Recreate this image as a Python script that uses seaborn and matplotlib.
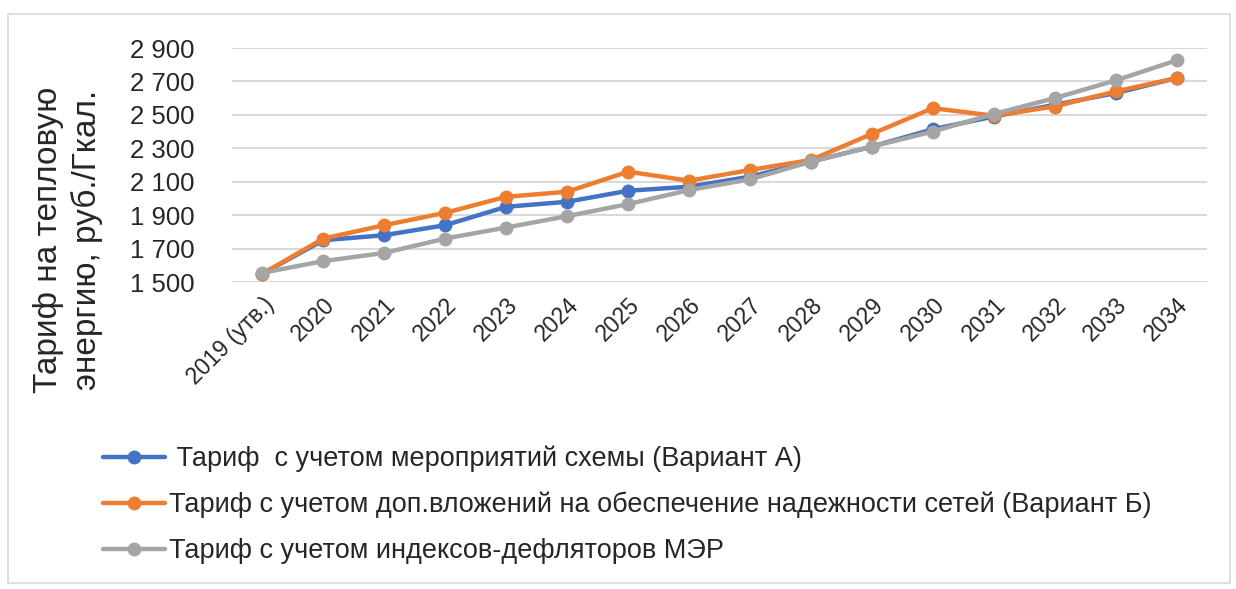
import matplotlib
matplotlib.use("Agg")
import matplotlib.pyplot as plt
import seaborn as sns
import pandas as pd
from matplotlib.patches import Rectangle
from matplotlib.ticker import FuncFormatter

# Годы прогноза
years = ["2019 (утв.)", "2020", "2021", "2022", "2023", "2024", "2025", "2026",
         "2027", "2028", "2029", "2030", "2031", "2032", "2033", "2034"]

# Тарифы, руб./Гкал
variant_a = [1550, 1750, 1780, 1840, 1950, 1980, 2046, 2070,
             2130, 2220, 2310, 2414, 2490, 2560, 2630, 2720]
variant_b = [1550, 1760, 1840, 1914, 2010, 2040, 2160, 2106,
             2170, 2230, 2386, 2540, 2495, 2550, 2640, 2720]
deflators = [1555, 1625, 1674, 1760, 1826, 1894, 1966, 2050,
             2114, 2220, 2310, 2400, 2505, 2600, 2706, 2826]

series_names = [
    " Тариф  с учетом мероприятий схемы (Вариант А)",
    "Тариф с учетом доп.вложений на обеспечение надежности сетей (Вариант Б)",
    "Тариф с учетом индексов-дефляторов МЭР",
]
colors = ["#4472C4", "#ED7D31", "#A5A5A5"]

y_ticks = [1500, 1700, 1900, 2100, 2300, 2500, 2700, 2900]

frames = []
for name, vals in zip(series_names, [variant_a, variant_b, deflators]):
    frames.append(pd.DataFrame({"pos": range(len(years)), "year": years,
                                "value": vals, "series": name}))
df = pd.concat(frames, ignore_index=True)

sns.set_theme(style="white")
plt.rcParams["font.family"] = ["Liberation Sans", "DejaVu Sans"]

fig = plt.figure(figsize=(12.36, 5.89), dpi=100)
ax = fig.add_axes([232 / 1236, 1 - 282 / 589, 975 / 1236, 234 / 589])

sns.lineplot(data=df, x="pos", y="value", hue="series", hue_order=series_names,
             palette=colors, marker="o", markersize=10, markeredgewidth=0,
             linewidth=3.2, ax=ax, legend=True, sort=False)

ax.set_xlim(-0.5, 15.5)
ax.set_ylim(1500, 2900)
ax.set_yticks(y_ticks)
ax.yaxis.set_major_formatter(FuncFormatter(lambda v, p: f"{int(v):,}".replace(",", " ")))
ax.set_xticks(range(len(years)))
ax.set_xticklabels(years, rotation=45, ha="right", rotation_mode="anchor", fontsize=16.5)
ax.tick_params(axis="y", labelsize=18.5, pad=27, length=0)
ax.tick_params(axis="x", length=0, pad=8)
ax.grid(axis="y", color="#D9D9D9", linewidth=1.5)
ax.grid(axis="x", visible=False)
for s in ax.spines.values():
    s.set_visible(False)
ax.set_xlabel("")
ax.set_ylabel("")

fig.text(68 / 1236, 1 - 240 / 589, "Тариф на тепловую\nэнергию, руб./Гкал.",
         rotation=90, ha="center", va="center", fontsize=24, linespacing=1.25)

handles, labels = ax.get_legend_handles_labels()
ax.get_legend().remove()
fig.legend(handles, labels, loc="upper left",
           bbox_to_anchor=(103 / 1236, 1 - 446 / 589), frameon=False,
           fontsize=19.5, handlelength=2.3, handletextpad=0.15, labelspacing=0.72,
           borderpad=0, borderaxespad=0)

# Рамка области диаграммы
fig.patches.append(Rectangle((8 / 1236, 1 - 583 / 589), 1222 / 1236, 569 / 589,
                             transform=fig.transFigure, fill=False,
                             edgecolor="#D9D9D9", linewidth=1.2))

fig.savefig("out.png", dpi=100)
